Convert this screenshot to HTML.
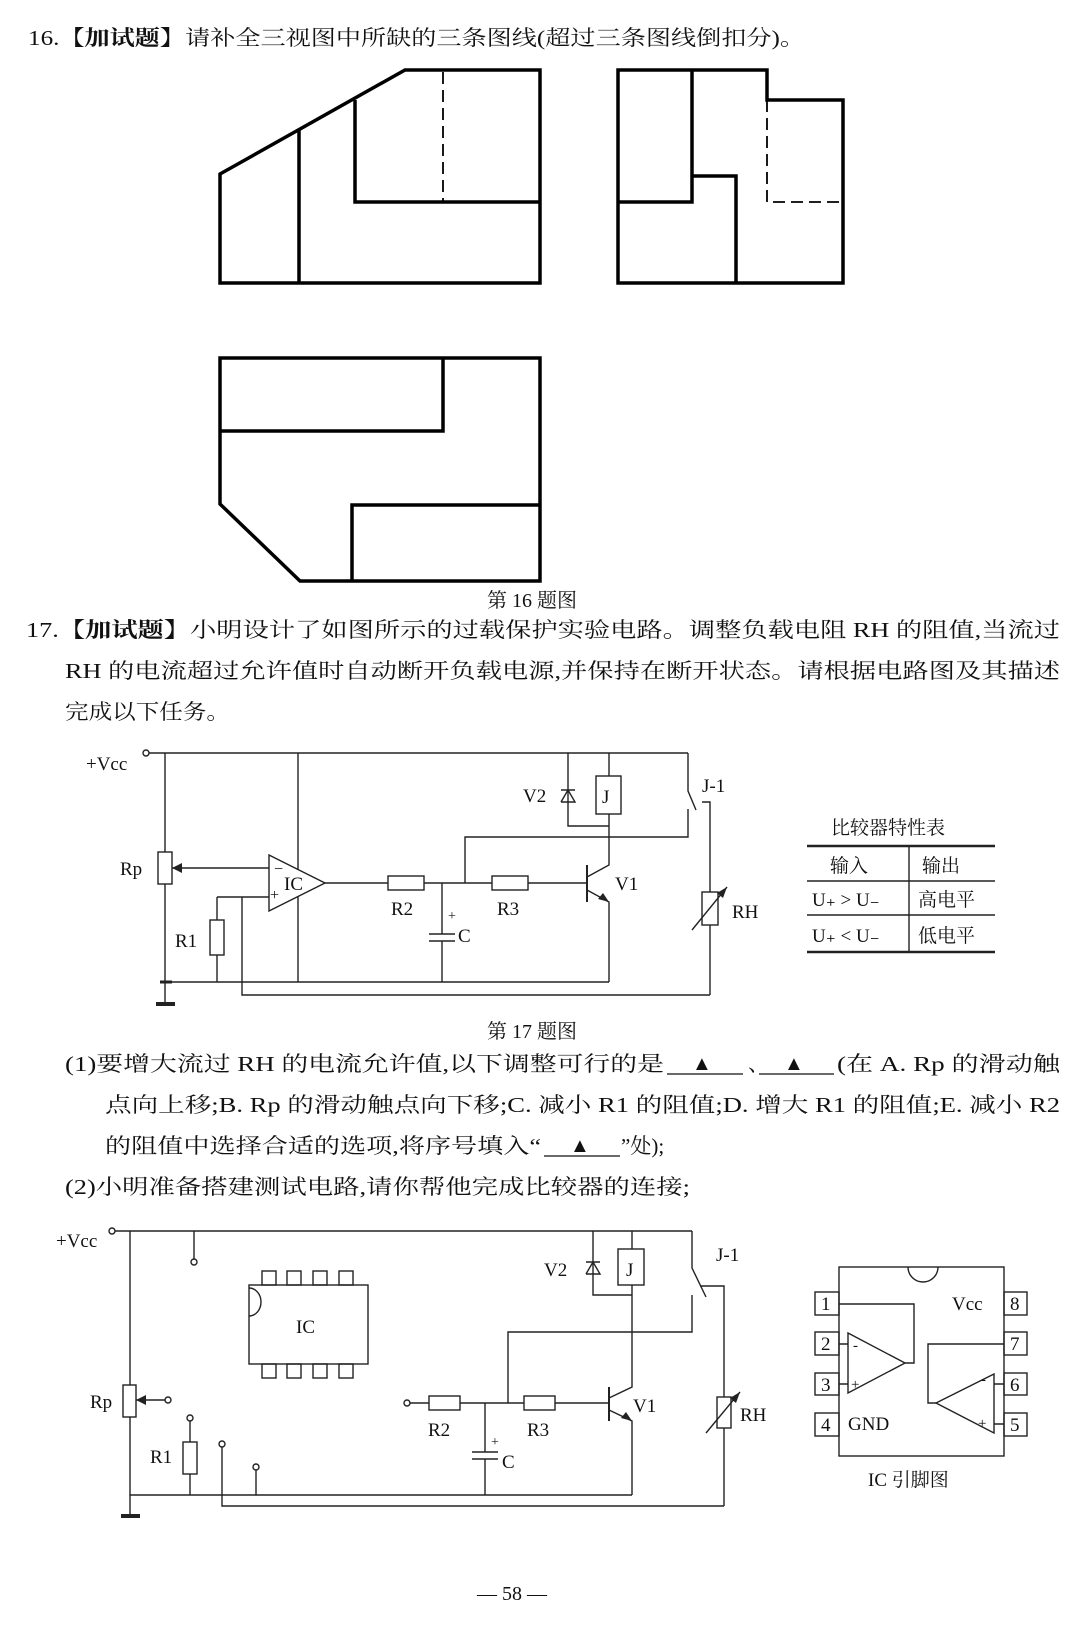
<!DOCTYPE html>
<html><head><meta charset="utf-8"><style>
html,body{margin:0;padding:0;background:#fff}
svg{display:block}
text{font-family:"Liberation Serif","Noto Serif CJK SC","Noto Sans CJK SC",serif;fill:#111}
</style></head><body>
<svg width="1080" height="1632" viewBox="0 0 1080 1632" xmlns="http://www.w3.org/2000/svg">
<text x="28" y="45" font-size="21" textLength="777" lengthAdjust="spacingAndGlyphs">16.<tspan font-weight="bold">【加试题】</tspan>请补全三视图中所缺的三条图线(超过三条图线倒扣分)。</text>

<g fill="none" stroke="#000" stroke-width="3.5" stroke-linejoin="miter">
<path d="M405 70 H540 V283 H220 V174 Z"/>
<path d="M299 130 V283"/>
<path d="M355 100 V202 H540"/>
<path d="M618 70 H767 V100 H843 V283 H618 Z"/>
<path d="M692 70 V202 H618"/>
<path d="M692 176 H736 V283"/>
<path d="M220 358 H540 V581 H300 L220 504 Z"/>
<path d="M220 431 H443 V358"/>
<path d="M540 505 H352 V581"/>
</g>
<g fill="none" stroke="#000" stroke-width="1.8" stroke-dasharray="12,6">
<path d="M443 72 V202"/>
<path d="M767 100 V202 H843"/>
</g>
<text x="487" y="607" font-size="20">第 16 题图</text>

<text x="26" y="637" font-size="21" textLength="1034" lengthAdjust="spacingAndGlyphs">17.<tspan font-weight="bold">【加试题】</tspan>小明设计了如图所示的过载保护实验电路。调整负载电阻 RH 的阻值,当流过</text>
<text x="65" y="678" font-size="21" textLength="995" lengthAdjust="spacingAndGlyphs">RH 的电流超过允许值时自动断开负载电源,并保持在断开状态。请根据电路图及其描述</text>
<text x="65" y="719" font-size="21" textLength="165" lengthAdjust="spacingAndGlyphs">完成以下任务。</text>

<g fill="none" stroke="#222" stroke-width="1.4">
<circle cx="146" cy="753" r="3"/>
<path d="M149 753 H688"/>
<path d="M165 753 V852 M165 884 V982 H609"/>
<path d="M160 982 H172" stroke-width="3"/>
<path d="M165 982 V1004"/>
<path d="M156 1004 H175" stroke-width="4"/>
<rect x="158" y="852" width="14" height="32" fill="#fff"/>
<path d="M172 868 H269"/>
<path d="M298 753 V982"/>
<path d="M269 855 L325 883 L269 911 Z" fill="#fff"/>
<path d="M217 897 H269 M217 897 V920 M217 955 V982"/>
<rect x="210" y="920" width="14" height="35" fill="#fff"/>
<path d="M242 897 V995 H710"/>
<path d="M325 883 H388 M424 883 H492 M528 883 H587"/>
<rect x="388" y="876" width="36" height="14" fill="#fff"/>
<rect x="492" y="876" width="36" height="14" fill="#fff"/>
<path d="M442 883 V934 M442 941 V982"/>
<path d="M429 934 H455 M429 941 H455"/>
<path d="M465 883 V837 H688 V809"/>
<path d="M587 865 V902" stroke-width="2"/>
<path d="M587 877 L609 865 V826 M587 890 L609 902 V982"/>
<path d="M609 753 V776 M609 814 V826"/>
<rect x="596" y="776" width="25" height="38" fill="#fff"/>
<path d="M568 753 V826 H609"/>
<path d="M561 790 H575 M561 802 H575 L568 790 L561 802"/>
<path d="M688 753 V791 L696 810"/>
<path d="M702 802 H710 V892 M710 925 V995"/>
<rect x="702" y="892" width="16" height="33" fill="#fff"/>
<path d="M692 930 L727 887"/>
<path d="M807 846 H995 M807 952 H995" stroke-width="2.5"/>
<path d="M807 881 H995 M807 915 H995 M909 846 V952"/>
</g>
<path d="M172 868 L182 863 L182 873 Z" fill="#222"/>
<path d="M609 902 L603 893 L598 899 Z" fill="#222"/>
<path d="M727 887 L717 893 L723 898 Z" fill="#222"/>
<g font-size="19">
<text x="86" y="770">+Vcc</text>
<text x="120" y="875">Rp</text>
<text x="175" y="947">R1</text>
<text x="284" y="890">IC</text>
<text x="274" y="874" font-size="16">−</text>
<text x="270" y="900" font-size="16">+</text>
<text x="391" y="915">R2</text>
<text x="497" y="915">R3</text>
<text x="448" y="920" font-size="14">+</text>
<text x="458" y="942">C</text>
<text x="615" y="890">V1</text>
<text x="523" y="802">V2</text>
<text x="602" y="803">J</text>
<text x="702" y="792">J-1</text>
<text x="732" y="918">RH</text>
<text x="831" y="834">比较器特性表</text>
<text x="830" y="872">输入</text>
<text x="922" y="872">输出</text>
<text x="812" y="906">U₊ &gt; U₋</text>
<text x="918" y="906">高电平</text>
<text x="812" y="942">U₊ &lt; U₋</text>
<text x="918" y="942">低电平</text>
</g>
<text x="487" y="1038" font-size="20">第 17 题图</text>

<text x="65" y="1071" font-size="21" textLength="599" lengthAdjust="spacingAndGlyphs">(1)要增大流过 RH 的电流允许值,以下调整可行的是</text>
<path d="M667 1074 H743 M759 1074 H834 M544 1156 H620" stroke="#111" stroke-width="1.3"/>
<text x="692" y="1070" font-size="20">▲</text>
<text x="748" y="1071" font-size="21">、</text>
<text x="784" y="1070" font-size="20">▲</text>
<text x="837" y="1071" font-size="21" textLength="223" lengthAdjust="spacingAndGlyphs">(在 A. Rp 的滑动触</text>
<text x="105" y="1112" font-size="21" textLength="955" lengthAdjust="spacingAndGlyphs">点向上移;B. Rp 的滑动触点向下移;C. 减小 R1 的阻值;D. 增大 R1 的阻值;E. 减小 R2</text>
<text x="105" y="1153" font-size="21" textLength="436" lengthAdjust="spacingAndGlyphs">的阻值中选择合适的选项,将序号填入“</text>
<text x="570" y="1152" font-size="20">▲</text>
<text x="621" y="1153" font-size="21">”处);</text>
<text x="65" y="1194" font-size="21" textLength="625" lengthAdjust="spacingAndGlyphs">(2)小明准备搭建测试电路,请你帮他完成比较器的连接;</text>

<g fill="none" stroke="#222" stroke-width="1.4">
<circle cx="112" cy="1231" r="3"/>
<path d="M115 1231 H692"/>
<path d="M130 1231 V1385 M130 1417 V1495 H632"/>
<path d="M130 1495 V1516"/>
<path d="M121 1516 H140" stroke-width="4"/>
<rect x="123" y="1385" width="13" height="32" fill="#fff"/>
<path d="M136 1400 H165"/>
<circle cx="168" cy="1400" r="3"/>
<path d="M194 1231 V1259"/><circle cx="194" cy="1262" r="3"/>
<path d="M190 1421 V1442 M190 1474 V1495"/><circle cx="190" cy="1418" r="3"/>
<rect x="183" y="1442" width="14" height="32" fill="#fff"/>
<path d="M222 1447 V1506 H724"/><circle cx="222" cy="1444" r="3"/>
<path d="M256 1470 V1495"/><circle cx="256" cy="1467" r="3"/>
<rect x="249" y="1285" width="119" height="79" fill="#fff"/>
<path d="M249 1288 A12 14 0 0 1 249 1316"/>
<rect x="262" y="1271" width="14" height="14"/><rect x="287" y="1271" width="14" height="14"/>
<rect x="313" y="1271" width="14" height="14"/><rect x="339" y="1271" width="14" height="14"/>
<rect x="262" y="1364" width="14" height="14"/><rect x="287" y="1364" width="14" height="14"/>
<rect x="313" y="1364" width="14" height="14"/><rect x="339" y="1364" width="14" height="14"/>
<circle cx="407" cy="1403" r="3"/>
<path d="M410 1403 H429 M460 1403 H524 M555 1403 H609"/>
<rect x="429" y="1396" width="31" height="14" fill="#fff"/>
<rect x="524" y="1396" width="31" height="14" fill="#fff"/>
<path d="M485 1403 V1452 M485 1459 V1495"/>
<path d="M472 1452 H498 M472 1459 H498"/>
<path d="M508 1403 V1332 H692 V1295"/>
<path d="M609 1387 V1421" stroke-width="2"/>
<path d="M609 1398 L632 1387 V1285 M609 1410 L632 1421 V1495"/>
<path d="M632 1231 V1249"/>
<rect x="618" y="1249" width="26" height="36" fill="#fff"/>
<path d="M593 1231 V1295 H632"/>
<path d="M586 1262 H600 M586 1274 H600 L593 1262 L586 1274"/>
<path d="M692 1231 V1268 L706 1297"/>
<path d="M700 1286 H724 V1397 M724 1428 V1506"/>
<rect x="717" y="1397" width="14" height="31" fill="#fff"/>
<path d="M706 1433 L740 1392"/>
<rect x="839" y="1267" width="165" height="189"/>
<path d="M908 1267 A15 15 0 0 0 938 1267"/>
<rect x="815" y="1292" width="24" height="23"/><rect x="815" y="1332" width="24" height="23"/>
<rect x="815" y="1373" width="24" height="22"/><rect x="815" y="1413" width="24" height="23"/>
<rect x="1004" y="1292" width="23" height="23"/><rect x="1004" y="1332" width="23" height="23"/>
<rect x="1004" y="1373" width="23" height="22"/><rect x="1004" y="1413" width="23" height="23"/>
<path d="M848 1333 L905 1363 L848 1393 Z"/>
<path d="M839 1344 H848 M839 1384 H848"/>
<path d="M905 1363 H914 V1304 H839"/>
<path d="M994 1374 L936 1403 L994 1433 Z"/>
<path d="M994 1384 H1004 M994 1424 H1004"/>
<path d="M936 1403 H928 V1344 H1004"/>
</g>
<path d="M136 1400 L146 1395 L146 1405 Z" fill="#222"/>
<path d="M632 1421 L626 1412 L621 1418 Z" fill="#222"/>
<path d="M740 1392 L730 1398 L736 1403 Z" fill="#222"/>
<g font-size="19">
<text x="56" y="1247">+Vcc</text>
<text x="90" y="1408">Rp</text>
<text x="150" y="1463">R1</text>
<text x="296" y="1333">IC</text>
<text x="428" y="1436">R2</text>
<text x="527" y="1436">R3</text>
<text x="491" y="1446" font-size="14">+</text>
<text x="502" y="1468">C</text>
<text x="633" y="1412">V1</text>
<text x="544" y="1276">V2</text>
<text x="626" y="1276">J</text>
<text x="716" y="1261">J-1</text>
<text x="740" y="1421">RH</text>
<text x="821" y="1310">1</text><text x="821" y="1350">2</text>
<text x="821" y="1391">3</text><text x="821" y="1431">4</text>
<text x="1010" y="1310">8</text><text x="1010" y="1350">7</text>
<text x="1010" y="1391">6</text><text x="1010" y="1431">5</text>
<text x="952" y="1310">Vcc</text>
<text x="848" y="1430">GND</text>
<text x="853" y="1350" font-size="15">-</text>
<text x="851" y="1389" font-size="15">+</text>
<text x="981" y="1384" font-size="15">-</text>
<text x="978" y="1428" font-size="15">+</text>
<text x="868" y="1486">IC 引脚图</text>
</g>

<text x="477" y="1600" font-size="20">— 58 —</text>
</svg>
</body></html>
